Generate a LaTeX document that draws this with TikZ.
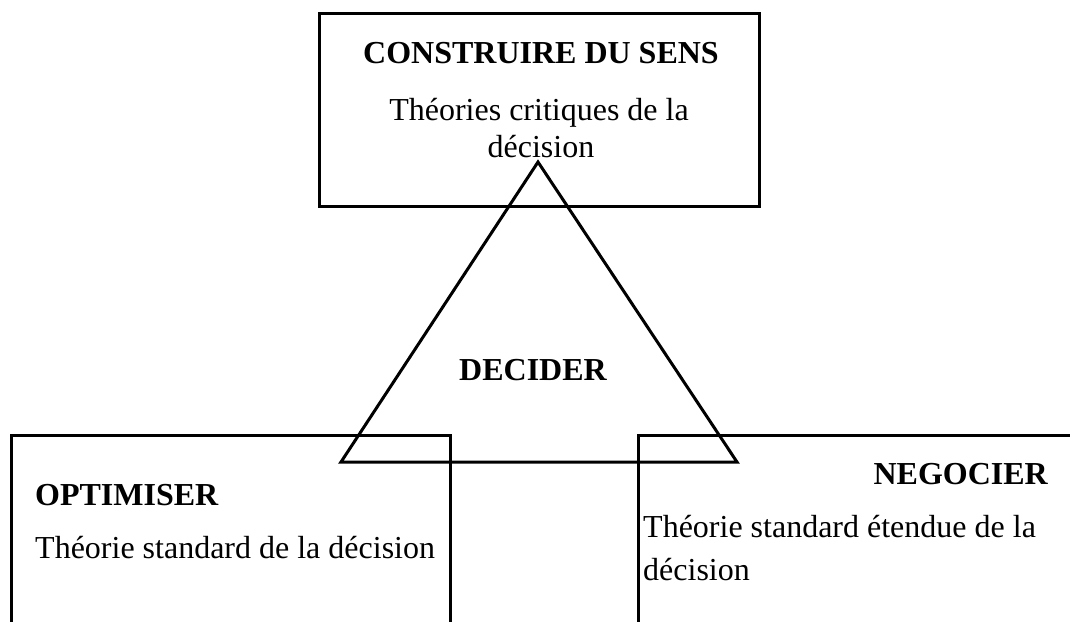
\documentclass[tikz,border=0pt]{standalone}
\usepackage{fontspec}
\setmainfont{Liberation Serif}
\begin{document}
\begin{tikzpicture}[x=1pt,y=-1pt,
  boxline/.style={draw=black,line width=3pt},
  txt/.style={inner sep=0pt,font=\fontsize{32}{36}\selectfont},
  btxt/.style={inner sep=0pt,font=\fontsize{32}{36}\selectfont\bfseries}]
\useasboundingbox (0,0) rectangle (1070,621);
\clip (0,0) rectangle (1070,621);
% top box
\node[boxline,minimum width=440pt,minimum height=193pt,inner sep=0pt] (topbox) at (539,109.5) {};
\node[btxt,anchor=base] (t1) at (541,63) {CONSTRUIRE DU SENS};
\node[txt,anchor=base] (t2) at (539,120) {Théories critiques de la};
\node[txt,anchor=base] (t3) at (541,157) {décision};
% triangle
\coordinate (apex) at (538,162);
\coordinate (bl) at (341,462);
\coordinate (br) at (737,462);
\draw[line width=3pt,line join=miter] (apex) -- (bl) -- (br) -- cycle;
\node[btxt,anchor=base] (dec) at (533,380) {DECIDER};
% bottom left box
\coordinate (l1) at (11,640);
\coordinate (l2) at (11,435);
\coordinate (l3) at (450,435);
\coordinate (l4) at (450,640);
\draw[boxline] (l1) -- (l2) -- (l3) -- (l4);
\node[btxt,anchor=base west] (opt) at (35,505) {OPTIMISER};
\node[txt,anchor=base west] (optd) at (35,558) {Théorie standard de la décision};
% bottom right box
\coordinate (r1) at (638,640);
\coordinate (r2) at (638,435);
\coordinate (r3) at (1090,435);
\draw[boxline] (r1) -- (r2) -- (r3);
\node[btxt,anchor=base east] (neg) at (1048,484) {NEGOCIER};
\node[txt,anchor=base west] (negd1) at (643,537) {Théorie standard étendue de la};
\node[txt,anchor=base west] (negd2) at (643,580) {décision};
\end{tikzpicture}
\end{document}
